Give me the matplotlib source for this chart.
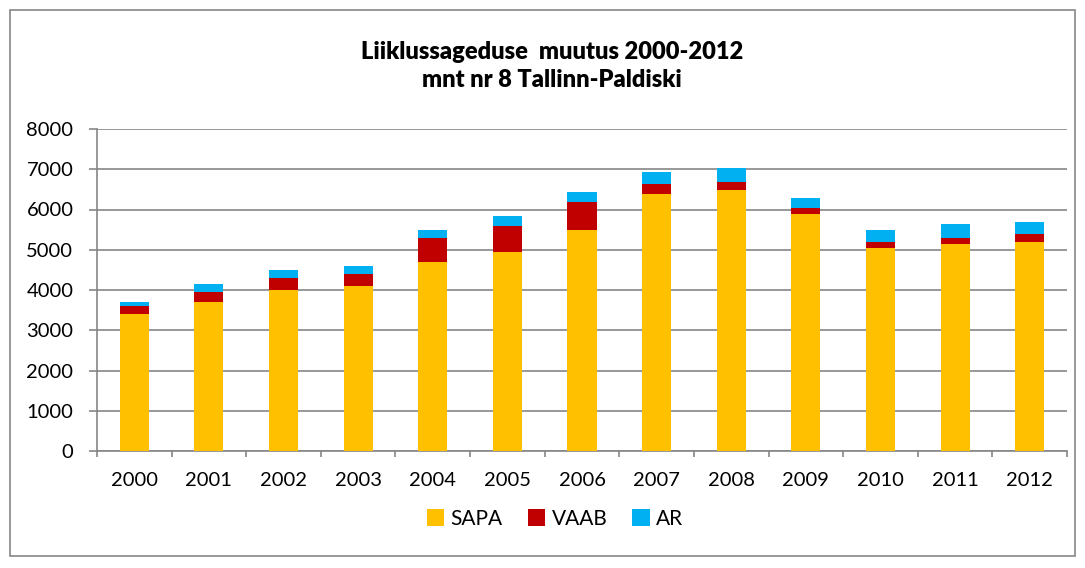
import matplotlib.pyplot as plt
import numpy as np
from matplotlib.patches import Rectangle

plt.rcParams['font.family'] = ['Lato', 'DejaVu Sans']

years = ['2000', '2001', '2002', '2003', '2004', '2005', '2006',
         '2007', '2008', '2009', '2010', '2011', '2012']
sapa = [3400, 3700, 4000, 4100, 4690, 4940, 5490, 6390, 6490, 5890, 5040, 5140, 5190]
vaab = [200, 240, 290, 290, 600, 650, 700, 250, 200, 150, 150, 150, 200]
ar = [100, 200, 200, 200, 200, 240, 250, 300, 340, 250, 300, 350, 300]

col_sapa = '#FFC000'
col_vaab = '#C00000'
col_ar = '#00B0F0'
grey = '#868686'

fig = plt.figure(figsize=(10.85, 5.68), dpi=100)
ax = fig.add_axes([97/1085, 1 - 451/568, (1067-97)/1085, (451-129)/568])

x = np.arange(len(years))
w = 0.39
sapa_a = np.array(sapa)
vaab_a = np.array(vaab)
ax.bar(x, sapa, w, color=col_sapa, label='SAPA', zorder=3)
ax.bar(x, vaab, w, bottom=sapa_a, color=col_vaab, label='VAAB', zorder=3)
ax.bar(x, ar, w, bottom=sapa_a + vaab_a, color=col_ar, label='AR', zorder=3)

ax.set_xlim(-0.5, len(years) - 0.5)
ax.set_ylim(0, 8000)
ax.set_yticks(range(0, 8001, 1000))
ax.yaxis.grid(True, color=grey, linewidth=1.2, zorder=0)
ax.set_xticks(x)
ax.set_xticklabels(years)
ax.set_xticks(np.arange(-0.5, len(years)), minor=True)
ax.tick_params(axis='x', which='major', length=0, labelsize=14.5, pad=15)
ax.tick_params(axis='x', which='minor', length=4, color=grey, width=1.2)
ax.tick_params(axis='y', length=6, color=grey, width=1.2, labelsize=14.5, pad=11)

for s in ['top', 'right']:
    ax.spines[s].set_visible(False)
for s in ['left', 'bottom']:
    ax.spines[s].set_color(grey)
    ax.spines[s].set_linewidth(1.2)

fig.text(552/1085, 1 - 66/568, 'Liiklussageduse  muutus 2000-2012\nmnt nr 8 Tallinn-Paldiski',
         ha='center', va='center', fontsize=17, fontweight='heavy', linespacing=1.3)

fig.legend(loc='center', bbox_to_anchor=(555/1085, 1 - 519/568), ncol=3, frameon=False,
           fontsize=15, handlelength=0.85, handleheight=0.85, handletextpad=0.3,
           columnspacing=1.2)

fig.patches.append(Rectangle((10/1085, 1 - 556/568), 1065/1085, 546/568,
                             transform=fig.transFigure, fill=False,
                             edgecolor=grey, linewidth=1.2))

fig.savefig('out.png', dpi=100)
